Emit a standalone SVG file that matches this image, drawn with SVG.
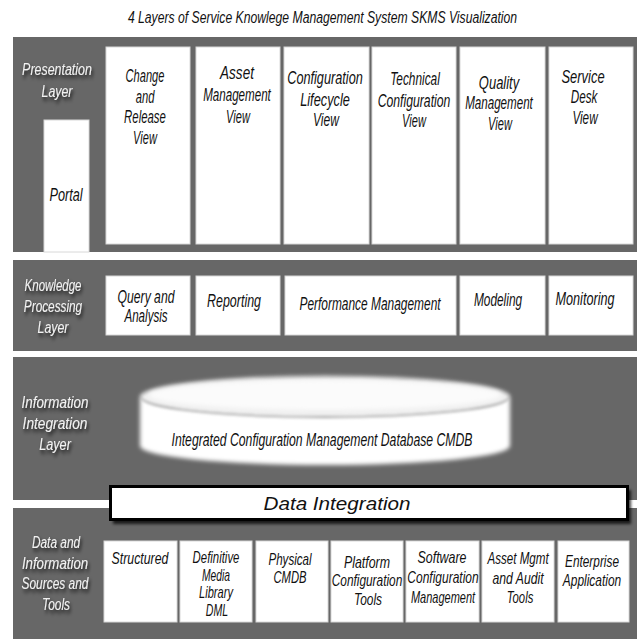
<svg xmlns="http://www.w3.org/2000/svg" width="637" height="639" viewBox="0 0 637 639">
<defs>
<style>
.band{fill:#676767}
.box{fill:#ffffff;stroke:#d8d8d8;stroke-width:1}
.t{font-family:"Liberation Sans",Arial,sans-serif;font-style:italic;font-size:18px;fill:#111;text-anchor:middle}
.s{font-size:16px}
.lbl{font-family:"Liberation Sans",Arial,sans-serif;font-style:italic;font-size:17px;fill:#f2f2f2;text-anchor:middle;filter:url(#sh)}
.title{font-family:"Liberation Sans",Arial,sans-serif;font-style:italic;font-size:17px;fill:#111;text-anchor:middle}
</style>
<filter id="sh" x="-30%" y="-50%" width="160%" height="200%">
<feDropShadow dx="2" dy="3" stdDeviation="2" flood-color="#000" flood-opacity="0.85"/>
</filter>
<filter id="soft" x="-10%" y="-30%" width="120%" height="160%">
<feGaussianBlur stdDeviation="2.2"/>
</filter>
<filter id="bsh" x="-5%" y="-30%" width="110%" height="160%">
<feGaussianBlur stdDeviation="1.5"/>
</filter>
</defs>
<rect width="637" height="639" fill="#ffffff"/>
<text class="title" transform="matrix(.78 0 0 1 322.5 23)" textLength="499" lengthAdjust="spacingAndGlyphs">4 Layers of Service Knowlege Management System SKMS Visualization</text>

<g id="presentation-layer">
<rect class="band" x="13" y="37" width="624" height="215"/>
<text class="lbl" transform="matrix(.72 0 0 1 57 75)" textLength="97" lengthAdjust="spacingAndGlyphs">Presentation</text>
<text class="lbl" transform="matrix(.72 0 0 1 57 97)" textLength="43" lengthAdjust="spacingAndGlyphs">Layer</text>
</g>
<g id="portal">
<rect class="box" x="44" y="120" width="45" height="132" stroke="none"/>
<text class="t" transform="matrix(.72 0 0 1 66 201)" textLength="46" lengthAdjust="spacingAndGlyphs">Portal</text>
</g>
<g id="change-release-view">
<rect class="box" x="106" y="47" width="84" height="197"/>
<text class="t" transform="matrix(.72 0 0 1 145 82)" textLength="54" lengthAdjust="spacingAndGlyphs">Change</text>
<text class="t" transform="matrix(.72 0 0 1 145 103)" textLength="26" lengthAdjust="spacingAndGlyphs">and</text>
<text class="t" transform="matrix(.72 0 0 1 145 123)" textLength="58" lengthAdjust="spacingAndGlyphs">Release</text>
<text class="t" transform="matrix(.72 0 0 1 145 144)" textLength="33" lengthAdjust="spacingAndGlyphs">View</text>
</g>
<g id="asset-management-view">
<rect class="box" x="196" y="47" width="84" height="197"/>
<text class="t" transform="matrix(.72 0 0 1 237 79)" textLength="47" lengthAdjust="spacingAndGlyphs">Asset</text>
<text class="t" transform="matrix(.72 0 0 1 237 101)" textLength="94" lengthAdjust="spacingAndGlyphs">Management</text>
<text class="t" transform="matrix(.72 0 0 1 238 123)" textLength="33" lengthAdjust="spacingAndGlyphs">View</text>
</g>
<g id="configuration-lifecycle-view">
<rect class="box" x="284" y="47" width="85" height="197"/>
<text class="t" transform="matrix(.72 0 0 1 325 84)" textLength="105" lengthAdjust="spacingAndGlyphs">Configuration</text>
<text class="t" transform="matrix(.72 0 0 1 325 106)" textLength="69" lengthAdjust="spacingAndGlyphs">Lifecycle</text>
<text class="t" transform="matrix(.72 0 0 1 326 126)" textLength="36" lengthAdjust="spacingAndGlyphs">View</text>
</g>
<g id="technical-configuration-view">
<rect class="box" x="372" y="47" width="84" height="197"/>
<text class="t" transform="matrix(.72 0 0 1 415 85)" textLength="69" lengthAdjust="spacingAndGlyphs">Technical</text>
<text class="t" transform="matrix(.72 0 0 1 414 107)" textLength="101" lengthAdjust="spacingAndGlyphs">Configuration</text>
<text class="t" transform="matrix(.72 0 0 1 414 127)" textLength="33" lengthAdjust="spacingAndGlyphs">View</text>
</g>
<g id="quality-management-view">
<rect class="box" x="460" y="47" width="85" height="197"/>
<text class="t" transform="matrix(.72 0 0 1 499 89)" textLength="56" lengthAdjust="spacingAndGlyphs">Quality</text>
<text class="t" transform="matrix(.72 0 0 1 499 109)" textLength="94" lengthAdjust="spacingAndGlyphs">Management</text>
<text class="t" transform="matrix(.72 0 0 1 500 130)" textLength="33" lengthAdjust="spacingAndGlyphs">View</text>
</g>
<g id="service-desk-view">
<rect class="box" x="549" y="47" width="84" height="197"/>
<text class="t" transform="matrix(.72 0 0 1 583 83)" textLength="60" lengthAdjust="spacingAndGlyphs">Service</text>
<text class="t" transform="matrix(.72 0 0 1 584 103)" textLength="37" lengthAdjust="spacingAndGlyphs">Desk</text>
<text class="t" transform="matrix(.72 0 0 1 585 124)" textLength="35" lengthAdjust="spacingAndGlyphs">View</text>
</g>

<g id="knowledge-processing-layer">
<rect class="band" x="13" y="260" width="624" height="91"/>
<text class="lbl" transform="matrix(.72 0 0 1 53 291)" textLength="79" lengthAdjust="spacingAndGlyphs">Knowledge</text>
<text class="lbl" transform="matrix(.72 0 0 1 53 312)" textLength="81" lengthAdjust="spacingAndGlyphs">Processing</text>
<text class="lbl" transform="matrix(.72 0 0 1 53 333)" textLength="43" lengthAdjust="spacingAndGlyphs">Layer</text>
</g>
<g id="query-analysis">
<rect class="box" x="106" y="276" width="84" height="59"/>
<text class="t" transform="matrix(.72 0 0 1 146 303)" textLength="79" lengthAdjust="spacingAndGlyphs">Query and</text>
<text class="t" transform="matrix(.72 0 0 1 146 322)" textLength="60" lengthAdjust="spacingAndGlyphs">Analysis</text>
</g>
<g id="reporting">
<rect class="box" x="196" y="276" width="84" height="59"/>
<text class="t" transform="matrix(.72 0 0 1 234 307)" textLength="75" lengthAdjust="spacingAndGlyphs">Reporting</text>
</g>
<g id="performance-management">
<rect class="box" x="285" y="276" width="171" height="59"/>
<text class="t" transform="matrix(.72 0 0 1 370 310)" textLength="196" lengthAdjust="spacingAndGlyphs">Performance Management</text>
</g>
<g id="modeling">
<rect class="box" x="460" y="276" width="85" height="59"/>
<text class="t" transform="matrix(.72 0 0 1 498 306)" textLength="67" lengthAdjust="spacingAndGlyphs">Modeling</text>
</g>
<g id="monitoring">
<rect class="box" x="549" y="276" width="84" height="59"/>
<text class="t" transform="matrix(.72 0 0 1 585 305)" textLength="82" lengthAdjust="spacingAndGlyphs">Monitoring</text>
</g>

<g id="information-integration-layer">
<rect class="band" x="13" y="357" width="624" height="143"/>
<text class="lbl" transform="matrix(.72 0 0 1 55 408)" textLength="93" lengthAdjust="spacingAndGlyphs">Information</text>
<text class="lbl" transform="matrix(.72 0 0 1 55 429)" textLength="90" lengthAdjust="spacingAndGlyphs">Integration</text>
<text class="lbl" transform="matrix(.72 0 0 1 55 450)" textLength="44" lengthAdjust="spacingAndGlyphs">Layer</text>
</g>
<g id="cmdb">
<path d="M140,397 A185,21 0 0 1 510,397 L510,446 A185,19 0 0 1 140,446 Z" fill="#ffffff" filter="url(#soft)"/>
<ellipse cx="325" cy="397" rx="184" ry="20" fill="#f0f0f0" stroke="#7a7a7a" stroke-width="1.3" filter="url(#bsh)"/>
<ellipse cx="325" cy="395" rx="176" ry="15" fill="#fbfbfb" filter="url(#soft)"/>
<text class="t" transform="matrix(.72 0 0 1 322 446)" textLength="418" lengthAdjust="spacingAndGlyphs">Integrated Configuration Management Database CMDB</text>
</g>

<g id="data-information-sources-layer">
<rect class="band" x="13" y="508" width="624" height="131"/>
<text class="lbl" transform="matrix(.72 0 0 1 56 548)" textLength="67" lengthAdjust="spacingAndGlyphs">Data and</text>
<text class="lbl" transform="matrix(.72 0 0 1 55 569)" textLength="92" lengthAdjust="spacingAndGlyphs">Information</text>
<text class="lbl" transform="matrix(.72 0 0 1 55 589)" textLength="93" lengthAdjust="spacingAndGlyphs">Sources and</text>
<text class="lbl" transform="matrix(.72 0 0 1 56 610)" textLength="39" lengthAdjust="spacingAndGlyphs">Tools</text>
</g>

<g id="data-integration">
<rect x="113" y="490" width="518" height="34" fill="#000" opacity="0.75" filter="url(#bsh)"/>
<rect x="110.5" y="486.5" width="517" height="33" fill="#ffffff" stroke="#000" stroke-width="3"/>
<text class="t" x="337" y="510" font-size="17" textLength="147" lengthAdjust="spacingAndGlyphs">Data Integration</text>
</g>

<g id="structured">
<rect class="box" x="104" y="541" width="73" height="81"/>
<text class="t s" transform="matrix(.72 0 0 1 140 564)" textLength="79" lengthAdjust="spacingAndGlyphs">Structured</text>
</g>
<g id="definitive-media-library">
<rect class="box" x="180" y="541" width="72" height="81"/>
<text class="t s" transform="matrix(.72 0 0 1 216 563)" textLength="65" lengthAdjust="spacingAndGlyphs">Definitive</text>
<text class="t s" transform="matrix(.72 0 0 1 216 581)" textLength="39" lengthAdjust="spacingAndGlyphs">Media</text>
<text class="t s" transform="matrix(.72 0 0 1 216 598)" textLength="47" lengthAdjust="spacingAndGlyphs">Library</text>
<text class="t s" transform="matrix(.72 0 0 1 217 616)" textLength="31" lengthAdjust="spacingAndGlyphs">DML</text>
</g>
<g id="physical-cmdb">
<rect class="box" x="256" y="541" width="72" height="81"/>
<text class="t s" transform="matrix(.72 0 0 1 290 565)" textLength="60" lengthAdjust="spacingAndGlyphs">Physical</text>
<text class="t s" transform="matrix(.72 0 0 1 290 583)" textLength="46" lengthAdjust="spacingAndGlyphs">CMDB</text>
</g>
<g id="platform-configuration-tools">
<rect class="box" x="331" y="541" width="72" height="81"/>
<text class="t s" transform="matrix(.72 0 0 1 367 568)" textLength="64" lengthAdjust="spacingAndGlyphs">Platform</text>
<text class="t s" transform="matrix(.72 0 0 1 367 586)" textLength="98" lengthAdjust="spacingAndGlyphs">Configuration</text>
<text class="t s" transform="matrix(.72 0 0 1 368 605)" textLength="39" lengthAdjust="spacingAndGlyphs">Tools</text>
</g>
<g id="software-configuration-management">
<rect class="box" x="406" y="541" width="73" height="81"/>
<text class="t s" transform="matrix(.72 0 0 1 442 563)" textLength="68" lengthAdjust="spacingAndGlyphs">Software</text>
<text class="t s" transform="matrix(.72 0 0 1 443 583)" textLength="99" lengthAdjust="spacingAndGlyphs">Configuration</text>
<text class="t s" transform="matrix(.72 0 0 1 443 603)" textLength="89" lengthAdjust="spacingAndGlyphs">Management</text>
</g>
<g id="asset-mgmt-audit-tools">
<rect class="box" x="482" y="541" width="72" height="81"/>
<text class="t s" transform="matrix(.72 0 0 1 518 564)" textLength="85" lengthAdjust="spacingAndGlyphs">Asset Mgmt</text>
<text class="t s" transform="matrix(.72 0 0 1 518 584)" textLength="71" lengthAdjust="spacingAndGlyphs">and Audit</text>
<text class="t s" transform="matrix(.72 0 0 1 520 603)" textLength="37" lengthAdjust="spacingAndGlyphs">Tools</text>
</g>
<g id="enterprise-application">
<rect class="box" x="558" y="541" width="71" height="81"/>
<text class="t s" transform="matrix(.72 0 0 1 592 567)" textLength="75" lengthAdjust="spacingAndGlyphs">Enterprise</text>
<text class="t s" transform="matrix(.72 0 0 1 592 586)" textLength="81" lengthAdjust="spacingAndGlyphs">Application</text>
</g>
</svg>
